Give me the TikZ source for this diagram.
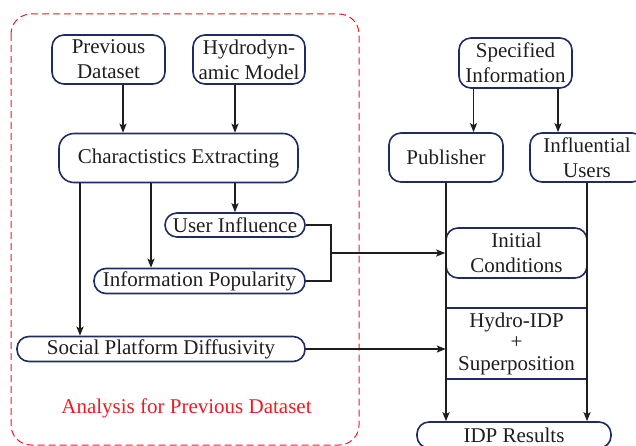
\documentclass[tikz,border=0pt]{standalone}
\usepackage{fontspec}
\setmainfont{Liberation Serif}
\usetikzlibrary{arrows.meta}
\definecolor{navy}{RGB}{30,44,100}
\definecolor{ink}{RGB}{30,30,30}
\definecolor{redd}{RGB}{236,28,36}
\tikzset{
  box/.style={draw=navy, line width=1.6pt, rounded corners=12pt, inner sep=0pt,
    align=center, text=ink, font=\fontsize{21}{25}\selectfont},
  plain/.style={inner sep=0pt, align=center, text=ink, font=\fontsize{21}{21.5}\selectfont},
  arr/.style={draw=ink, line width=1.8pt, -{Stealth[length=9pt,width=7pt,inset=2pt]}},
  ln/.style={draw=ink, line width=1.8pt},
}
\begin{document}
\begin{tikzpicture}[x=1pt,y=-1pt]
\useasboundingbox (0,0) rectangle (636,446);
% dashed region
\draw[redd, line width=1pt, dash pattern=on 7pt off 4pt, rounded corners=20pt] (11,14) rectangle (359,445);
\node[text=redd, font=\fontsize{21}{25}\selectfont, inner sep=0pt] (lab) at (186.5,408) {Analysis for Previous Dataset};
% left nodes
\node[box, minimum width=113pt, minimum height=49pt] (prev) at (108.5,59.5) {Previous\\Dataset};
\node[box, minimum width=112pt, minimum height=49pt] (hydro) at (249,59.5) {Hydrodyn-\\amic Model};
\node[box, minimum width=239pt, minimum height=49pt, rounded corners=15pt] (char) at (178.5,158) {Charactistics Extracting};
\node[box, minimum width=140pt, minimum height=24pt] (ui) at (235,225) {User Influence};
\node[box, minimum width=211pt, minimum height=25pt] (ip) at (199.5,281) {Information Popularity};
\node[box, minimum width=288pt, minimum height=25pt] (spd) at (161,349) {Social Platform Diffusivity};
% right nodes
\node[box, minimum width=113pt, minimum height=50pt] (spec) at (515.5,63) {Specified\\Information};
\node[box, minimum width=114pt, minimum height=49pt] (pub) at (446,157.5) {Publisher};
\node[box, minimum width=114pt, minimum height=49pt] (infl) at (587,157.5) {Influential\\Users};
\node[box, minimum width=141pt, minimum height=50pt] (ic) at (516.5,253) {Initial\\Conditions};
\node[plain, minimum width=141pt, minimum height=71pt] (hidp) at (516.5,343.5) {Hydro-IDP\\+\\Superposition};
\draw[navy, line width=1.6pt] (hidp.north west) -- (hidp.north east);
\draw[navy, line width=1.6pt] (hidp.south west) -- (hidp.south east);
\node[box, minimum width=194pt, minimum height=26pt] (idp) at (514,435) {IDP Results};
% connectors left
\coordinate (a1) at ([xshift=14.5pt]prev.south);
\draw[arr] (a1) -- (a1 |- char.north);
\coordinate (a2) at ([xshift=-14pt]hydro.south);
\draw[arr] (a2) -- (a2 |- char.north);
\draw[arr] (char.south -| ui.north) -- (ui.north);
\coordinate (a3) at ([xshift=-48.5pt]ip.north);
\draw[arr] (a3 |- char.south) -- (a3);
\coordinate (a4) at ([xshift=-81pt]spd.north);
\draw[arr] (a4 |- char.south) -- (a4);
\coordinate (j) at (331,253);
\draw[ln] (ui.east) -| (j) |- (ip.east);
\draw[arr] (j) -- (ic.west);
\draw[arr] (spd.east) -- (spd.east -| hidp.west);
% connectors right
\coordinate (s1) at ([xshift=-42pt]spec.south);
\draw[arr] (s1) -- (s1 |- pub.north);
\coordinate (s2) at ([xshift=42.5pt]spec.south);
\draw[arr] (s2) -- (s2 |- infl.north);
\draw[arr] (pub.south) -- (pub.south |- idp.north);
\draw[arr] (infl.south) -- (infl.south |- idp.north);
\end{tikzpicture}
\end{document}
